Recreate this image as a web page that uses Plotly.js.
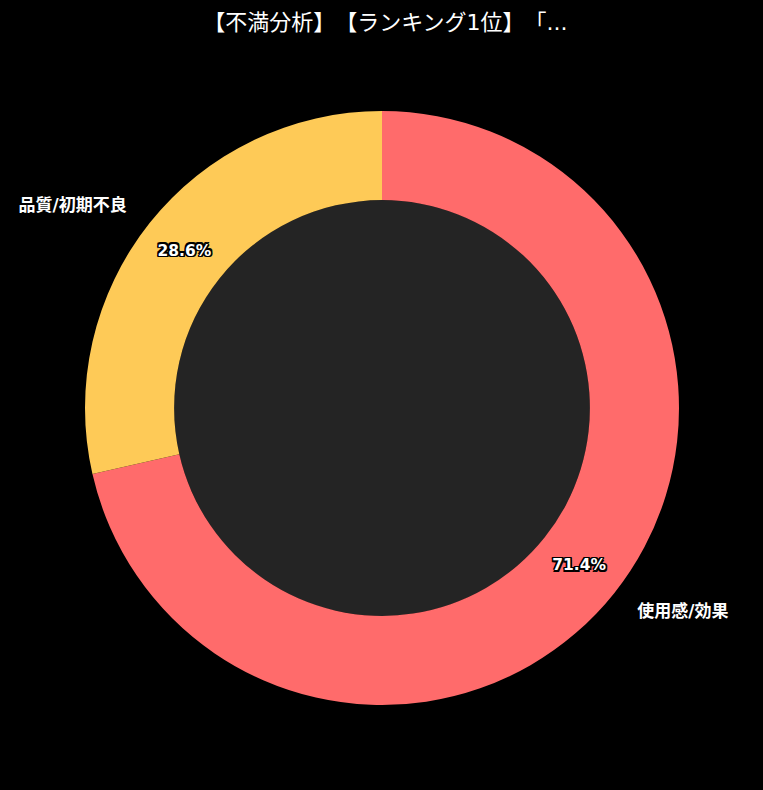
<!DOCTYPE html>
<html>
<head>
<meta charset="utf-8">
<script src="https://cdn.plot.ly/plotly-3.0.1.min.js"></script>
<style>
html,body{margin:0;padding:0;background:#000;}
svg text, .main-svg text { text-spacing-trim: space-all; }
</style>
</head>
<body>
<div id="chart" style="width:763px;height:790px;"></div>
<script>
const categories = ["使用感/効果", "品質/初期不良"];
const counts = [5, 2];
const sliceColors = ["#FF6B6B", "#FECA57"];
const chartTitle = "【不満分析】【ランキング1位】「...";

const FONT = "DejaVu Sans, Noto Sans CJK JP, sans-serif";
const holeRatio = 0.70;
// plot area 640x640; ring radius 297px, label ring radius 320px
const ringFrac = 594 / 640;
const ringDomain = {x: [(1 - ringFrac) / 2, 1 - (1 - ringFrac) / 2], y: [(1 - ringFrac) / 2, 1 - (1 - ringFrac) / 2]};
const labelDomain = {x: [0, 1], y: [0, 1]};

const ring = {
  type: "pie",
  labels: categories,
  values: counts,
  marker: {colors: sliceColors, line: {width: 0}},
  hole: holeRatio,
  sort: false,
  direction: "clockwise",
  rotation: 0,
  domain: ringDomain,
  textinfo: "percent",
  texttemplate: "%{percent:.1%}",
  textposition: "inside",
  insidetextorientation: "horizontal",
  insidetextfont: {
    family: FONT, size: 15.5, color: "#ffffff", weight: "bold",
    shadow: "1.5px 1.5px 0 #000, -1.5px -1.5px 0 #000, 1.5px -1.5px 0 #000, -1.5px 1.5px 0 #000, 0 1.5px 0 #000, 0 -1.5px 0 #000, 1.5px 0 0 #000, -1.5px 0 0 #000"
  },
  showlegend: false,
  hoverinfo: "label+percent"
};

const labelRing = {
  type: "pie",
  labels: categories,
  values: counts,
  marker: {colors: categories.map(() => "rgba(0,0,0,0)"), line: {width: 0}},
  hole: 0.9,
  sort: false,
  direction: "clockwise",
  rotation: 0,
  domain: labelDomain,
  textinfo: "label",
  textposition: "outside",
  outsidetextfont: {family: FONT, size: 17, color: "#ffffff", weight: "bold"},
  showlegend: false,
  hoverinfo: "skip"
};

const inner = 208 / 640;
const layout = {
  width: 763,
  height: 790,
  paper_bgcolor: "#000000",
  plot_bgcolor: "#000000",
  margin: {l: 62, r: 61, t: 88, b: 62, autoexpand: false},
  title: {
    text: chartTitle,
    font: {family: FONT, size: 22, color: "#ffffff"},
    x: 0.505, xanchor: "center",
    y: 0.972, yanchor: "middle"
  },
  shapes: [{
    type: "circle",
    xref: "paper", yref: "paper",
    x0: 0.5 - inner, x1: 0.5 + inner,
    y0: 0.5 - inner, y1: 0.5 + inner,
    fillcolor: "#242424",
    line: {width: 0},
    layer: "below"
  }]
};

Plotly.newPlot("chart", [ring, labelRing], layout, {displayModeBar: false, staticPlot: true});
</script>
</body>
</html>
